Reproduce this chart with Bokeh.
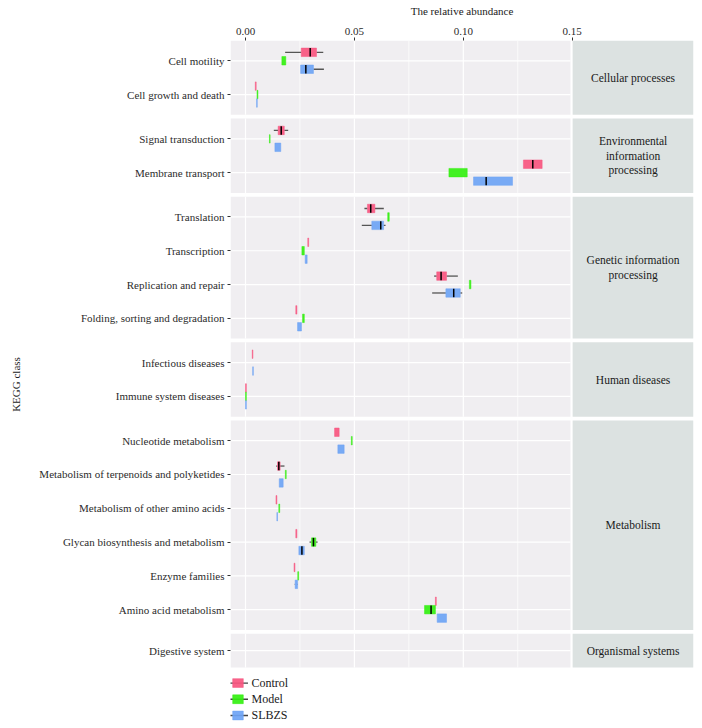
from bokeh.plotting import figure
from bokeh.models import Range1d, FixedTicker, ColumnDataSource, NumeralTickFormatter
from bokeh.core.properties import value
from bokeh.embed import file_html
from bokeh.resources import INLINE

NAN = float("nan")

# ---------------- data ----------------
panel_labels = ["Cellular processes",
                "Environmental\ninformation\nprocessing",
                "Genetic information\nprocessing",
                "Human diseases",
                "Metabolism",
                "Organismal systems"]
panel_categories = [
    ["Cell motility", "Cell growth and death"],
    ["Signal transduction", "Membrane transport"],
    ["Translation", "Transcription", "Replication and repair", "Folding, sorting and degradation"],
    ["Infectious diseases", "Immune system diseases"],
    ["Nucleotide metabolism", "Metabolism of terpenoids and polyketides",
     "Metabolism of other amino acids", "Glycan biosynthesis and metabolism",
     "Enzyme families", "Amino acid metabolism"],
    ["Digestive system"],
]
groups = ["Control", "Model", "SLBZS"]
group_colors = ["#F8557F", "#33F010", "#6EA4F5"]
x_ticks = [0.0, 0.05, 0.10, 0.15]

control_lo  = [0.0182, 0.0045, 0.0130, 0.1276, 0.0546, 0.0286, 0.0866, 0.0231, 0.0031, 0.0000, 0.0409, 0.0141, 0.0140, 0.0231, 0.0223, 0.0872, NAN]
control_q1  = [0.0256, 0.0045, 0.0150, 0.1276, 0.0560, 0.0286, 0.0878, 0.0231, 0.0031, 0.0000, 0.0409, 0.0147, 0.0140, 0.0231, 0.0223, 0.0872, NAN]
control_med = [0.0297, NAN,    0.0164, 0.1319, 0.0575, NAN,    0.0898, NAN,    NAN,    NAN,    NAN,    0.0153, NAN,    NAN,    NAN,    NAN,    NAN]
control_q3  = [0.0326, 0.0049, 0.0178, 0.1362, 0.0594, 0.0290, 0.0923, 0.0236, 0.0034, 0.0004, 0.0430, 0.0159, 0.0144, 0.0236, 0.0227, 0.0876, NAN]
control_hi  = [0.0357, 0.0049, 0.0196, 0.1362, 0.0635, 0.0290, 0.0975, 0.0236, 0.0034, 0.0004, 0.0430, 0.0179, 0.0144, 0.0236, 0.0227, 0.0876, NAN]

model_lo  = [0.0167, 0.0053, 0.0110, 0.0934, 0.0653, 0.0259, 0.1028, 0.0262, NAN, 0.0000, 0.0486, 0.0183, 0.0153, 0.0294, 0.0240, 0.0822, NAN]
model_q1  = [0.0167, 0.0053, 0.0110, 0.0934, 0.0653, 0.0259, 0.1028, 0.0262, NAN, 0.0000, 0.0486, 0.0183, 0.0153, 0.0303, 0.0240, 0.0822, NAN]
model_med = [NAN,    NAN,    NAN,    NAN,    NAN,    NAN,    NAN,    NAN,    NAN, NAN,    NAN,    NAN,    NAN,    0.0312, NAN,    0.0852, NAN]
model_q3  = [0.0185, 0.0057, 0.0113, 0.1018, 0.0660, 0.0270, 0.1035, 0.0270, NAN, 0.0004, 0.0490, 0.0187, 0.0157, 0.0323, 0.0244, 0.0872, NAN]
model_hi  = [0.0185, 0.0057, 0.0113, 0.1018, 0.0660, 0.0270, 0.1035, 0.0270, NAN, 0.0004, 0.0490, 0.0187, 0.0157, 0.0331, 0.0244, 0.0872, NAN]

slbzs_lo  = [0.0253, 0.0051, 0.0135, 0.1047, 0.0534, 0.0274, 0.0857, 0.0239, 0.0033, 0.0000, 0.0424, 0.0155, 0.0144, 0.0245, 0.0226, 0.0880, NAN]
slbzs_q1  = [0.0253, 0.0051, 0.0135, 0.1047, 0.0580, 0.0274, 0.0920, 0.0239, 0.0033, 0.0000, 0.0424, 0.0155, 0.0144, 0.0245, 0.0228, 0.0880, NAN]
slbzs_med = [0.0277, NAN,    NAN,    0.1105, 0.0621, NAN,    0.0956, NAN,    NAN,    NAN,    NAN,    NAN,    NAN,    0.0259, NAN,    NAN,    NAN]
slbzs_q3  = [0.0312, 0.0054, 0.0162, 0.1226, 0.0634, 0.0283, 0.0986, 0.0257, 0.0036, 0.0004, 0.0453, 0.0173, 0.0147, 0.0270, 0.0239, 0.0923, NAN]
slbzs_hi  = [0.0360, 0.0054, 0.0162, 0.1226, 0.0643, 0.0283, 0.0995, 0.0257, 0.0036, 0.0004, 0.0453, 0.0173, 0.0147, 0.0270, 0.0241, 0.0923, NAN]

stats = [
    (control_lo, control_q1, control_med, control_q3, control_hi),
    (model_lo, model_q1, model_med, model_q3, model_hi),
    (slbzs_lo, slbzs_q1, slbzs_med, slbzs_q3, slbzs_hi),
]

# ---------------- layout (y in 1/100 of a category step, growing downward) ----------------
STEP, GAP = 100, 11
PX_PER_UNIT = 0.338
cat_names, cat_y, panel_top, panel_bot = [], [], [], []
cur = 0
for cats in panel_categories:
    pad = 60 if len(cats) > 1 else 50
    panel_top.append(cur)
    for i, c in enumerate(cats):
        cat_names.append(c)
        cat_y.append(cur + pad + i * STEP)
    bottom = cur + 2 * pad + (len(cats) - 1) * STEP
    panel_bot.append(bottom)
    cur = bottom + GAP
panel_mid = [(a + b) / 2 for a, b in zip(panel_top, panel_bot)]

W, H = 702, 728
LEFT, TOP, RIGHT = 230, 40, 9
FRAME_W, FRAME_H = W - LEFT - RIGHT, H - TOP
PX_PER_X = 2178.0
X0 = -15 / PX_PER_X
X1 = X0 + FRAME_W / PX_PER_X
PANEL_RIGHT = 0.1492
STRIP_LEFT = 0.1502
Y_BOTTOM = FRAME_H / PX_PER_UNIT

FONT = "Liberation Serif"

p = figure(width=W, height=H, output_backend="svg", toolbar_location=None,
           x_range=Range1d(X0, X1), y_range=Range1d(Y_BOTTOM, 0),
           x_axis_location="above",
           min_border_left=LEFT, min_border_right=RIGHT, min_border_top=TOP, min_border_bottom=0)
p.outline_line_color = None
p.grid.visible = False
p.background_fill_color = "white"

# panel backgrounds and strips
p.quad(left=X0, right=PANEL_RIGHT, top=panel_top, bottom=panel_bot,
       fill_color="#F0EEF1", line_color=None)
p.quad(left=STRIP_LEFT, right=X1, top=panel_top, bottom=panel_bot,
       fill_color="#DCE2E1", line_color=None)

# grid lines
minor_x = [(a + b) / 2 for a, b in zip(x_ticks[:-1], x_ticks[1:])]
gx0, gy0, gx1, gy1 = [], [], [], []
mx0, my0, mx1, my1 = [], [], [], []
for t, b in zip(panel_top, panel_bot):
    for xv in x_ticks:
        if X0 <= xv <= PANEL_RIGHT:
            gx0.append(xv); gx1.append(xv); gy0.append(t); gy1.append(b)
    for xv in minor_x:
        mx0.append(xv); mx1.append(xv); my0.append(t); my1.append(b)
for yv in cat_y:
    gx0.append(X0); gx1.append(PANEL_RIGHT); gy0.append(yv); gy1.append(yv)
p.segment(x0=mx0, y0=my0, x1=mx1, y1=my1, line_color="white", line_width=0.7)
p.segment(x0=gx0, y0=gy0, x1=gx1, y1=gy1, line_color="white", line_width=1.2)

# boxplots
BOX_H = 25
offsets = [-25, 0, 25]
for (lo, q1, med, q3, hi), col, off in zip(stats, group_colors, offsets):
    ys = [y + off for y in cat_y]
    src = ColumnDataSource(dict(y=ys, lo=lo, q1=q1, med=med, q3=q3, hi=hi,
                                yt=[y - BOX_H / 2 for y in ys],
                                yb=[y + BOX_H / 2 for y in ys]))
    p.segment(x0="lo", y0="y", x1="q1", y1="y", source=src, line_color="#555555", line_width=1.3)
    p.segment(x0="q3", y0="y", x1="hi", y1="y", source=src, line_color="#555555", line_width=1.3)
    p.hbar(y="y", left="q1", right="q3", height=BOX_H, source=src,
           fill_color=col, fill_alpha=0.92, line_color=col, line_alpha=0.5, line_width=1)
    p.segment(x0="med", y0="yt", x1="med", y1="yb", source=src, line_color="black", line_width=1.5)

# facet strip labels
p.text(x=[(STRIP_LEFT + X1) / 2] * len(panel_labels), y=panel_mid, text=panel_labels,
       text_font=value(FONT), text_font_size="11.5px", text_color="#1A1A1A",
       text_align="center", text_baseline="middle", text_line_height=1.22)

# legend (drawn below the panels)
leg_y = [panel_bot[-1] + 46 + i * 48 for i in range(len(groups))]
kx0 = X0 - 2.5 / PX_PER_X
kw = 20 / PX_PER_X
bw = 10.6 / PX_PER_X
kc = kx0 + kw / 2
p.segment(x0=[kx0] * 3, y0=leg_y, x1=[kx0 + kw] * 3, y1=leg_y, line_color="#444444", line_width=1.3)
p.hbar(y=leg_y, left=[kc - bw / 2] * 3, right=[kc + bw / 2] * 3, height=BOX_H + 1,
       fill_color=group_colors, fill_alpha=0.92, line_color=group_colors, line_alpha=0.5, line_width=1)
p.text(x=[kx0 + kw + 3.5 / PX_PER_X] * 3, y=leg_y, text=groups,
       text_font=value(FONT), text_font_size="12px", text_color="#1A1A1A",
       text_baseline="middle", text_align="left")

# axes
p.xaxis.ticker = FixedTicker(ticks=x_ticks)
p.xaxis.formatter = NumeralTickFormatter(format="0.00")
p.xaxis.axis_label = "The relative abundance"
p.yaxis.ticker = FixedTicker(ticks=cat_y)
p.yaxis.major_label_overrides = {int(y): n for y, n in zip(cat_y, cat_names)}
p.yaxis.axis_label = "KEGG class"
for ax in (p.xaxis[0], p.yaxis[0]):
    ax.axis_line_color = None
    ax.major_tick_out = 3
    ax.major_tick_in = 0
    ax.minor_tick_line_color = None
    ax.major_tick_line_color = "#333333"
    ax.major_label_text_font = FONT
    ax.major_label_text_font_size = "11px"
    ax.major_label_text_color = "#2B2B2B"
    ax.axis_label_text_font = FONT
    ax.axis_label_text_font_size = "11px"
    ax.axis_label_text_font_style = "normal"
    ax.axis_label_text_color = "#1A1A1A"
p.xaxis.major_label_standoff = 3
p.xaxis.axis_label_standoff = 8
p.yaxis.major_label_standoff = 3
p.yaxis.axis_label_standoff = 14

open("out.html", "w").write(file_html(p, INLINE))
